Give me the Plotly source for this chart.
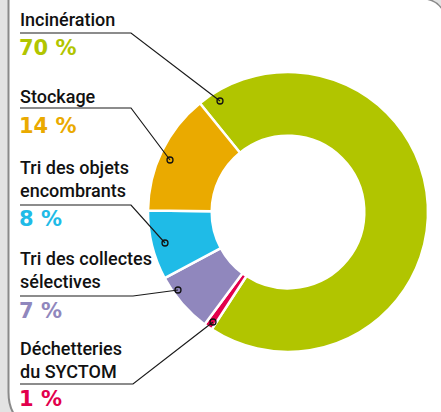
import plotly.graph_objects as go

# ---- data ----
categories = ["Incinération", "Déchetteries du SYCTOM", "Tri des collectes sélectives",
              "Tri des objets encombrants", "Stockage"]
values = [70, 1, 7, 8, 14]
colors = ["#b1c500", "#e2004c", "#9087bd", "#1fbbe7", "#eaaa00"]
label_texts = ["Incinération", "Déchetteries<br>du SYCTOM", "Tri des collectes<br>sélectives",
               "Tri des objets<br>encombrants", "Stockage"]
pct_texts = ["70 %", "1 %", "7 %", "8 %", "14 %"]

W, H = 441, 412


def px(x):
    return x / W


def py(y):
    return 1 - y / H


# layout positions (pixels): label centre y, underline y, percent centre y, dot position
label_y = [20, 360, 270, 179, 96]
line_y = [33, 384, 296, 205, 108]
pct_y = [48, 399, 311, 219, 126]
line_end_x = [131, 133, 133, 131, 131]
dots = [(220, 101), (213, 322), (178, 290), (165, 243), (170, 160)]

# donut geometry (pixels)
cx, cy, R = 288, 212, 140

fig = go.Figure()
fig.add_trace(go.Pie(
    labels=categories, values=values, sort=False, direction="clockwise",
    rotation=-39, hole=0.545,
    marker=dict(colors=colors, line=dict(color="white", width=2.5)),
    textinfo="none", hoverinfo="label+percent", showlegend=False,
    domain=dict(x=[px(cx - R), px(cx + R)], y=[py(cy + R), py(cy - R)]),
))

shapes = []
annotations = []
# frame: grey band on left with rounded bottom corner
shapes.append(dict(type="path", xref="paper", yref="paper",
                   path=f"M {px(-2)},{py(-2)} L {px(8.5)},{py(-2)} L {px(8.5)},{py(392)} "
                        f"C {px(8.5)},{py(402)} {px(10)},{py(408)} {px(14)},{py(414)} "
                        f"L {px(-2)},{py(414)} Z",
                   fillcolor="#e3e3e3", line=dict(width=0), layer="below"))
shapes.append(dict(type="path", xref="paper", yref="paper",
                   path=f"M {px(8.5)},{py(-2)} L {px(8.5)},{py(392)} "
                        f"C {px(8.5)},{py(402)} {px(10)},{py(408)} {px(14)},{py(414)}",
                   line=dict(color="#8a8a8a", width=2)))
# top-right corner
shapes.append(dict(type="path", xref="paper", yref="paper",
                   path=f"M {px(426)},{py(-1)} C {px(433)},{py(0)} {px(438)},{py(3)} {px(442)},{py(9)} "
                        f"L {px(442)},{py(-1)} Z",
                   fillcolor="#e3e3e3", line=dict(color="#8a8a8a", width=1.5)))

for i in range(len(categories)):
    annotations.append(dict(x=px(18), y=py(label_y[i]), xref="paper", yref="paper",
                            text=label_texts[i], showarrow=False, xanchor="left", yanchor="middle",
                            align="left",
                            font=dict(family="Roboto", size=18, color="#111111", weight=500)))
    annotations.append(dict(x=px(17), y=py(pct_y[i]), xref="paper", yref="paper",
                            text=pct_texts[i], showarrow=False, xanchor="left", yanchor="middle",
                            font=dict(family="DejaVu Sans", size=21, color=colors[i], weight="bold")))
    dx, dy = dots[i]
    shapes.append(dict(type="path", xref="paper", yref="paper",
                       path=f"M {px(20)},{py(line_y[i])} L {px(line_end_x[i])},{py(line_y[i])} "
                            f"L {px(dx)},{py(dy)}",
                       line=dict(color="#1a1a1a", width=1.2)))
    r = 3
    shapes.append(dict(type="circle", xref="paper", yref="paper",
                       x0=px(dx - r), x1=px(dx + r), y0=py(dy + r), y1=py(dy - r),
                       fillcolor="rgba(0,0,0,0)", line=dict(color="#111111", width=1.3)))

fig.update_layout(width=W, height=H, margin=dict(l=0, r=0, t=0, b=0),
                  paper_bgcolor="white", plot_bgcolor="white",
                  shapes=shapes, annotations=annotations)
fig.write_html("out.html", config={"displayModeBar": False},
               post_script="document.body.style.margin='0';document.body.style.overflow='hidden';")
